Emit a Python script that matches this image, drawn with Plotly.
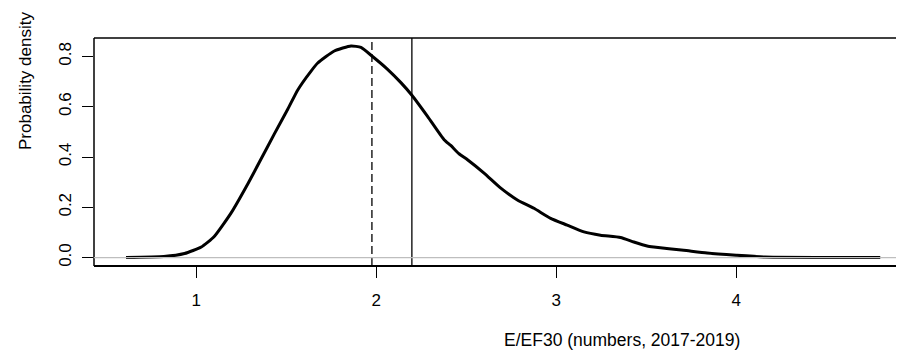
import plotly.graph_objects as go

# density curve
ratio = [0.61, 0.82, 0.935, 1.028, 1.10, 1.194, 1.287, 1.36, 1.434, 1.509, 1.564,
         1.638, 1.675, 1.767, 1.86, 1.915, 1.976, 2.063, 2.137, 2.198, 2.285,
         2.377, 2.414, 2.46, 2.507, 2.599, 2.692, 2.784, 2.876, 2.969, 3.061,
         3.154, 3.246, 3.357, 3.431, 3.505, 3.542, 3.708, 3.838, 4.0, 4.16, 4.80]
density = [0.0, 0.004, 0.016, 0.042, 0.084, 0.178, 0.294, 0.392, 0.492, 0.591, 0.667,
           0.742, 0.774, 0.822, 0.842, 0.836, 0.802, 0.749, 0.696, 0.646, 0.562,
           0.469, 0.446, 0.413, 0.389, 0.336, 0.276, 0.229, 0.196, 0.156, 0.129,
           0.102, 0.089, 0.080, 0.062, 0.046, 0.042, 0.029, 0.018, 0.009, 0.002, 0.0]

# reference lines
dashed_x = 1.976
solid_x = 2.198

x_ticks = [1, 2, 3, 4]
y_ticks = [0.0, 0.2, 0.4, 0.6, 0.8]
y_tick_text = ["0.0", "0.2", "0.4", "0.6", "0.8"]

FONT = "Liberation Sans, Arial, sans-serif"

fig = go.Figure()
fig.add_trace(go.Scatter(
    x=ratio, y=density, mode="lines",
    line=dict(color="black", width=3, shape="spline", smoothing=0.5),
    hoverinfo="skip", showlegend=False,
))

shapes = [
    # box (right side cut off in the original)
    dict(type="line", xref="paper", yref="paper", x0=0, x1=0, y0=0, y1=1,
         line=dict(color="black", width=1.5)),
    dict(type="line", xref="paper", yref="paper", x0=0, x1=1.02, y0=1, y1=1,
         line=dict(color="black", width=1.5)),
    dict(type="line", xref="paper", yref="paper", x0=0, x1=1.02, y0=0, y1=0,
         line=dict(color="black", width=2)),
    dict(type="line", xref="x", yref="paper", x0=dashed_x, x1=dashed_x, y0=0, y1=1,
         line=dict(color="black", width=1.3, dash="8px,4px")),
    dict(type="line", xref="x", yref="paper", x0=solid_x, x1=solid_x, y0=0, y1=1,
         line=dict(color="black", width=1.3)),
    dict(type="line", xref="paper", yref="y", x0=0, x1=1.02, y0=0, y1=0,
         line=dict(color="#BEBEBE", width=1.2), layer="above"),
]

# page body has an 8px margin, so the figure is 8px smaller on each side
fig.update_layout(
    width=896, height=343,
    margin=dict(l=86, r=0, t=30, b=85),
    plot_bgcolor="white", paper_bgcolor="white",
    font=dict(family=FONT, size=17, color="black"),
    shapes=shapes,
    xaxis=dict(range=[0.432, 4.932], tickvals=x_ticks, ticks="outside", ticklen=11,
               tickcolor="black", tickwidth=1, showgrid=False, zeroline=False,
               showline=False, ticklabelstandoff=8),
    yaxis=dict(range=[-0.0336, 0.8736], tickvals=y_ticks, ticktext=y_tick_text,
               tickangle=-90, ticks="outside", ticklen=11, tickcolor="black",
               tickwidth=1, showgrid=False, zeroline=False, showline=False,
               ticklabelstandoff=4),
    annotations=[
        dict(text="E/EF30 (numbers, 2017-2019)", xref="paper", yref="paper",
             x=(622 - 94) / 810, y=-(340 - 266) / 228, xanchor="center", yanchor="middle",
             showarrow=False, font=dict(size=17.5)),
        dict(text="Probability density", xref="paper", yref="paper",
             x=-(94 - 25) / 810, y=(266 - 81) / 228, xanchor="center", yanchor="middle",
             textangle=-90, showarrow=False, font=dict(size=17)),
    ],
)

fig.write_html("out.html")
